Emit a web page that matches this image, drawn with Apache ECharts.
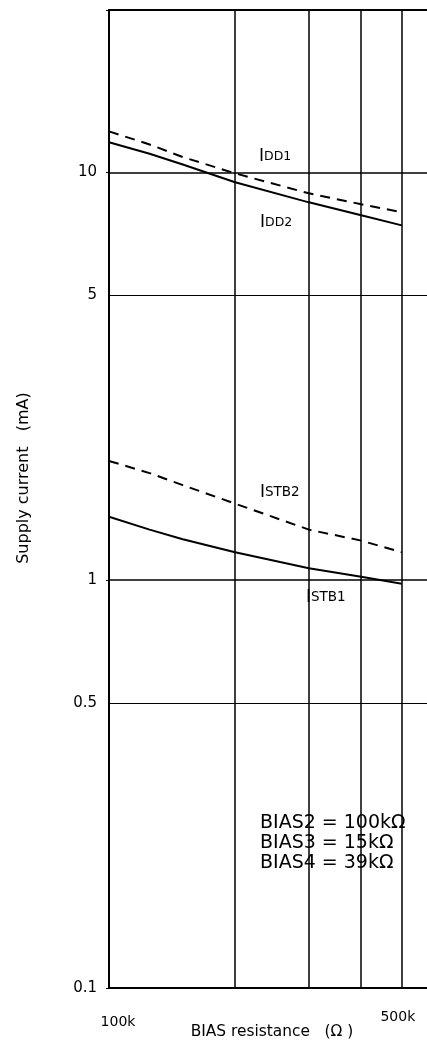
<!DOCTYPE html>
<html>
<head>
<meta charset="utf-8">
<title>Supply current vs BIAS resistance</title>
<script src="https://cdn.jsdelivr.net/npm/echarts@6/dist/echarts.min.js"></script>
<style>
  html, body { margin: 0; padding: 0; background: #fff; }
  #chart { width: 427px; height: 1042px; }
</style>
</head>
<body>
<div id="chart"></div>
<script>
// BIAS resistance (ohm)
var resist = [100000, 125000, 150000, 200000, 300000, 400000, 500000];
// supply current (mA)
var idd1  = [12.6, 11.7, 10.9, 9.94, 8.88, 8.35, 7.98];
var idd2  = [11.85, 11.1, 10.45, 9.45, 8.44, 7.85, 7.41];
var istb2 = [1.96, 1.83, 1.71, 1.54, 1.33, 1.25, 1.17];
var istb1 = [1.43, 1.33, 1.26, 1.17, 1.07, 1.02, 0.98];
// extra grid lines
var xGrid = [200000, 300000, 400000, 500000];
var yGrid = [5, 0.5];
var yTickLabels = [0.1, 1, 10];

var FONT = 'DejaVu Sans';

function pairs(ys) {
    return resist.map(function (x, i) { return [x, ys[i]]; });
}

var markData = [];
xGrid.forEach(function (v) {
    var item = { xAxis: v };
    if (v === 500000) {
        item.label = { show: true, position: 'start', formatter: '500k', distance: 22, offset: [-4, 0] };
    }
    markData.push(item);
});
yGrid.forEach(function (v) {
    markData.push({ yAxis: v, lineStyle: { width: 1.2 },
        label: { show: true, position: 'start', formatter: String(v), distance: 12, fontSize: 15 } });
});

var myChart = echarts.init(document.getElementById('chart'));
var option = {
    animation: false,
    backgroundColor: '#fff',
    textStyle: { fontFamily: FONT, color: '#000' },
    grid: {
        left: 109, width: 326, top: 10, bottom: 54,
        outerBoundsMode: 'none',
        containLabel: false,
        show: true, borderColor: '#000', borderWidth: 2
    },
    xAxis: {
        type: 'log',
        logBase: 10,
        min: 100000,
        max: 600000,
        name: 'BIAS resistance   (\u03a9 )',
        nameLocation: 'middle',
        nameGap: 36,
        nameMoveOverlap: false,
        nameTextStyle: { fontSize: 15.4, color: '#000', fontFamily: FONT },
        axisLine: { lineStyle: { color: '#000', width: 2 } },
        axisTick: { show: false },
        splitLine: { show: false },
        axisLabel: {
            margin: 27,
            fontSize: 14,
            color: '#000',
            padding: [0, 0, 0, 18],
            formatter: function (v) { return v === 100000 ? '100k' : ''; }
        }
    },
    yAxis: {
        type: 'log',
        logBase: 10,
        min: 0.1,
        max: 25,
        axisLine: { lineStyle: { color: '#000', width: 2 } },
        axisTick: { show: true, length: 3, lineStyle: { color: '#000' } },
        splitLine: { lineStyle: { color: '#000', width: 1.5 } },
        axisLabel: {
            margin: 12,
            fontSize: 15,
            color: '#000',
            formatter: function (v) {
                for (var i = 0; i < yTickLabels.length; i++) {
                    if (Math.abs(v - yTickLabels[i]) < 1e-6) return String(yTickLabels[i]);
                }
                return '';
            }
        }
    },
    series: [
        {
            name: 'IDD1', type: 'line', data: pairs(idd1), symbol: 'none',
            lineStyle: { color: '#000', width: 2, type: [10, 7] },
            markLine: {
                silent: true,
                symbol: ['none', 'none'],
                lineStyle: { color: '#000', type: 'solid', width: 1.5 },
                label: { show: false, color: '#000', fontSize: 14, fontFamily: FONT },
                data: markData
            }
        },
        {
            name: 'IDD2', type: 'line', data: pairs(idd2), symbol: 'none',
            lineStyle: { color: '#000', width: 2 }
        },
        {
            name: 'ISTB2', type: 'line', data: pairs(istb2), symbol: 'none',
            lineStyle: { color: '#000', width: 2, type: [10, 7] }
        },
        {
            name: 'ISTB1', type: 'line', data: pairs(istb1), symbol: 'none',
            lineStyle: { color: '#000', width: 2 }
        }
    ],
    graphic: [
        {
            type: 'text', x: 24, y: 478, rotation: Math.PI / 2,
            style: { text: 'Supply current   (mA)', fontFamily: FONT, fontSize: 16,
                     fill: '#000', align: 'center', verticalAlign: 'middle' }
        },
        {
            type: 'text', left: 259, top: 148,
            style: { text: '{a|I}{b|DD1}', fill: '#000',
                     rich: { a: { fontSize: 17, fontFamily: FONT }, b: { fontSize: 12.5, fontFamily: FONT } } }
        },
        {
            type: 'text', left: 260, top: 214,
            style: { text: '{a|I}{b|DD2}', fill: '#000',
                     rich: { a: { fontSize: 17, fontFamily: FONT }, b: { fontSize: 12.5, fontFamily: FONT } } }
        },
        {
            type: 'text', left: 260, top: 484,
            style: { text: '{a|I}{b|STB2}', fill: '#000',
                     rich: { a: { fontSize: 17, fontFamily: FONT }, b: { fontSize: 13.5, fontFamily: FONT } } }
        },
        {
            type: 'text', left: 306, top: 589,
            style: { text: '{a|I}{b|STB1}', fill: '#000',
                     rich: { a: { fontSize: 17, fontFamily: FONT }, b: { fontSize: 13.5, fontFamily: FONT } } }
        },
        {
            type: 'text', left: 260, top: 813,
            style: { text: 'BIAS2 = 100k\u03a9\nBIAS3 = 15k\u03a9\nBIAS4 = 39k\u03a9',
                     fontFamily: FONT, fontSize: 19, lineHeight: 20, fill: '#000' }
        }
    ]
};
myChart.setOption(option);
</script>
</body>
</html>
